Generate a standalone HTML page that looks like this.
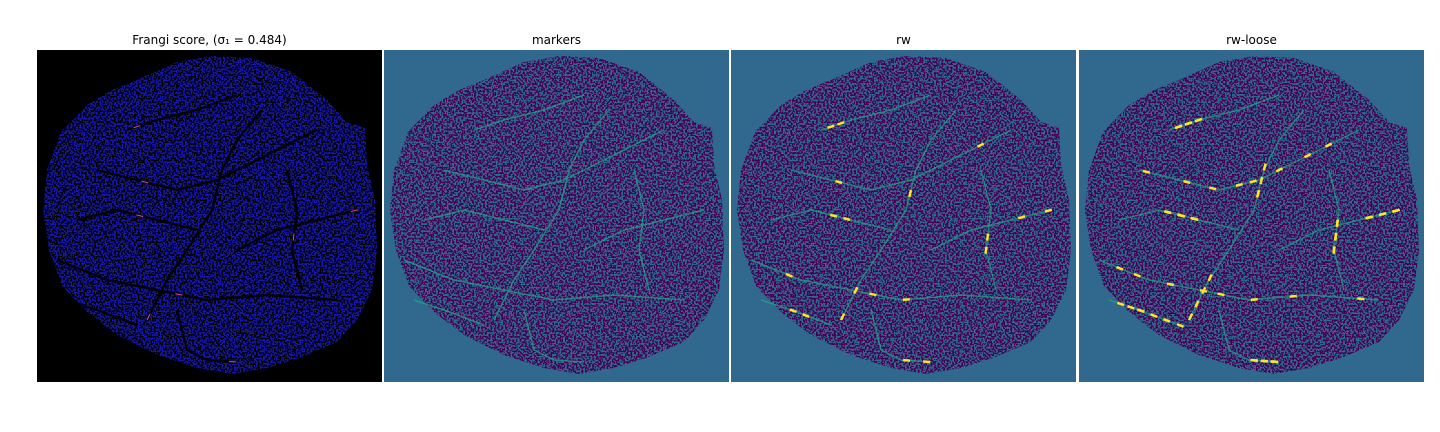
<!DOCTYPE html>
<html><head><meta charset="utf-8">
<style>
html,body{margin:0;padding:0;background:#fff;width:1440px;height:432px;overflow:hidden}
svg{display:block}
text{font-family:"DejaVu Sans","Liberation Sans",sans-serif;font-size:12px;fill:#000}
</style></head>
<body>
<svg id="fig" width="1440" height="432" viewBox="0 0 1440 432" xmlns="http://www.w3.org/2000/svg">
<defs>
<filter id="noiseA" x="0" y="0" width="100%" height="100%">
<feTurbulence type="fractalNoise" baseFrequency="0.55" numOctaves="1" seed="3" result="t"/>
<feColorMatrix in="t" type="matrix" values="0 0 0 0 0  0 0 0 0 0  0 0 0 0 0  0 0 0 -20 10.6" result="m"/>
<feComposite in="SourceGraphic" in2="m" operator="in"/>
</filter>
</defs>
</svg>
<script>
const titles = ["Frangi score, (σ₁ = 0.484)", "markers", "rw", "rw-loose"];
const panelNames = ["frangi-panel","markers-panel","rw-panel","rw-loose-panel"];
const panelX = [37, 384, 731, 1079];
const bgColors = ["#000000","#31688e","#31688e","#31688e"];
const blobColors = ["#1414a8","#440154","#440154","#440154"];
const blobBase = ["#000000","#31688e","#31688e","#31688e"];
const vesselColors = ["#000000","#22a884","#22a884","#22a884"];
const highlightColors = ["#e0508a","#22a884","#fde725","#fde725"];
// blob outline (panel-local coordinates, panel size 345x332)
const outline = [[100,30],[140,12],[175,6],[215,8],[255,22],[290,50],[310,72],[328,78],[330,115],[338,150],[340,200],[335,240],[320,270],[300,292],[262,308],[230,318],[195,324],[160,318],[120,305],[80,285],[50,262],[25,236],[12,200],[6,160],[10,120],[24,82],[50,55],[75,40]];
// vessel curves
const vessels = [
 [[110,270],[130,230],[150,200],[175,160],[185,120],[200,90],[225,60]],
 [[20,210],[70,230],[120,240],[170,250],[230,245],[300,250]],
 [[140,260],[150,300],[170,310],[200,312]],
 [[60,120],[100,130],[140,140],[180,130],[220,110],[280,80]],
 [[40,170],[80,160],[120,170],[160,180]],
 [[200,200],[240,180],[280,170],[320,160]],
 [[90,80],[120,70],[160,60],[200,45]],
 [[250,120],[260,160],[255,200],[265,240]],
 [[30,250],[60,260],[100,275]]
];
// bright highlight segments (count per panel)
const highlightCount = [8, 0, 20, 70];
const svg = document.getElementById('fig');
const NS = "http://www.w3.org/2000/svg";
function pts(a, ox, oy){return a.map(p=>(p[0]+ox)+","+(p[1]+oy)).join(" ");}
for(let i=0;i<4;i++){
  const ox=panelX[i], oy=50;
  const g=document.createElementNS(NS,'g');
  
  
  svg.appendChild(g);
  const bg=document.createElementNS(NS,'rect');
  
  
  bg.setAttribute('x',ox);bg.setAttribute('y',oy);bg.setAttribute('width',345);bg.setAttribute('height',332);
  bg.setAttribute('fill',bgColors[i]);g.appendChild(bg);
  const base=document.createElementNS(NS,'polygon');
  
  
  base.setAttribute('points',pts(outline,ox,oy));base.setAttribute('fill',blobBase[i]);g.appendChild(base);
  const blob=document.createElementNS(NS,'polygon');
  
  
  blob.setAttribute('points',pts(outline,ox,oy));blob.setAttribute('fill',blobColors[i]);
  blob.setAttribute('filter','url(#noiseA)');g.appendChild(blob);
  vessels.forEach((v,k)=>{
    const pl=document.createElementNS(NS,'polyline');
    
    
    pl.setAttribute('points',pts(v,ox,oy));pl.setAttribute('fill','none');
    pl.setAttribute('stroke',vesselColors[i]);pl.setAttribute('stroke-width',i===0?2.5:1.5);
    pl.setAttribute('stroke-linejoin','round');pl.setAttribute('opacity',i===0?0.9:0.7);
    g.appendChild(pl);
  });
  for(let k=0;k<highlightCount[i];k++){
    const v=vessels[k%vessels.length];
    const s=(k*7)%(v.length-1);
    const a=v[s], b=v[s+1];
    const f=((k*37)%100)/100;
    const x=a[0]+(b[0]-a[0])*f, y=a[1]+(b[1]-a[1])*f;
    const dx=(b[0]-a[0]), dy=(b[1]-a[1]); const L=Math.hypot(dx,dy)||1;
    const ln=document.createElementNS(NS,'line');
    
    
    ln.setAttribute('x1',ox+x);ln.setAttribute('y1',oy+y);
    ln.setAttribute('x2',ox+x+dx/L*7);ln.setAttribute('y2',oy+y+dy/L*7);
    ln.setAttribute('stroke',highlightColors[i]);ln.setAttribute('stroke-width',i===0?1:2.5);
    g.appendChild(ln);
  }
  const t=document.createElementNS(NS,'text');
  
  
  t.setAttribute('x',ox+172.5);t.setAttribute('y',44);t.setAttribute('text-anchor','middle');
  t.textContent=titles[i];g.appendChild(t);
}
</script>
</body></html>
